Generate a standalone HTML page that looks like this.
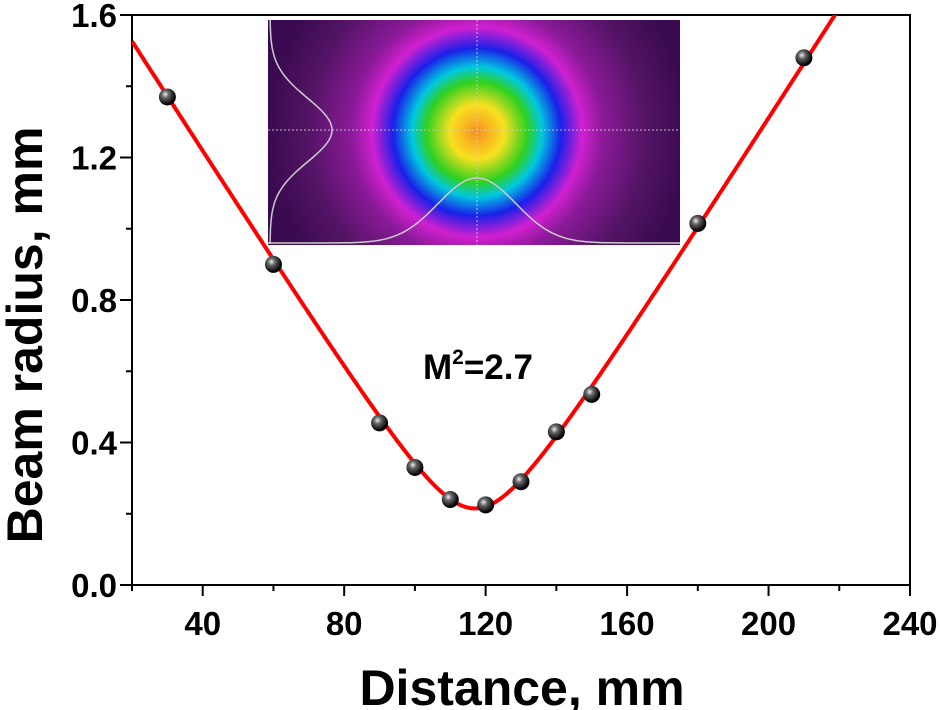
<!DOCTYPE html>
<html><head><meta charset="utf-8"><style>
body{margin:0;background:#fff}
svg{display:block;font-family:"Liberation Sans",Arial,sans-serif;font-weight:bold}
</style></head><body>
<svg id="chartsvg" width="940" height="710" viewBox="0 0 940 710">
<defs id="defsEl">
<radialGradient id="beam" cx="477" cy="132" r="210" gradientUnits="userSpaceOnUse">
<stop offset="0" stop-color="#f79020"/>
<stop offset="0.13" stop-color="#f8e020"/>
<stop offset="0.24" stop-color="#30d020"/>
<stop offset="0.31" stop-color="#00c8e0"/>
<stop offset="0.4" stop-color="#1a20e8"/>
<stop offset="0.5" stop-color="#d020d0"/>
<stop offset="0.6" stop-color="#8a1a98"/>
<stop offset="0.8" stop-color="#541466"/>
<stop offset="1" stop-color="#3a0a50"/>
</radialGradient>
<radialGradient id="ball" cx="0.38" cy="0.35" r="0.6">
<stop offset="0" stop-color="#eee"/><stop offset="0.35" stop-color="#666"/><stop offset="1" stop-color="#000"/>
</radialGradient>
<clipPath id="ic"><rect x="268" y="20" width="412" height="225"/></clipPath>
<clipPath id="pc"><rect x="132" y="15" width="778" height="570"/></clipPath>
</defs>
<g>
<rect x="268" y="20" width="412" height="225" fill="url(#beam)"/>
<g clip-path="url(#ic)" stroke="#ccc" fill="none" stroke-width="1.5">
<line x1="268" y1="130" x2="680" y2="130" stroke-dasharray="2,2" opacity="0.6"/>
<line x1="477" y1="20" x2="477" y2="245" stroke-dasharray="2,2" opacity="0.6"/>
<path id="hprofPath"/><path id="vprofPath"/>
</g>
</g>
<g id="axesGroup"></g>
<path id="fitPath" fill="none" stroke="#f00" stroke-width="4" clip-path="url(#pc)"/>
<g id="ptsGroup"></g>
<text x="423" y="379" font-size="35">M<tspan font-size="21" dy="-15">2</tspan><tspan dy="15">=2.7</tspan></text>
<text x="522" y="705" font-size="50" text-anchor="middle">Distance, mm</text>
<text transform="translate(42,335) rotate(-90)" font-size="50" text-anchor="middle">Beam radius, mm</text>
</svg>
<script>
var distances=[30,60,90,100,110,120,130,140,150,180,210];
var radii=[1.37,0.9,0.455,0.33,0.24,0.225,0.29,0.43,0.535,1.015,1.48];
var fitParams=[0.215,117,13.8];
var xTicks=[40,80,120,160,200,240];
var yTicks=[0.0,0.4,0.8,1.2,1.6];
(function(){
var X0=132,X1=910,Y0=585,Y1=15,xmin=20,xmax=240,ymin=0,ymax=1.6;
function sx(v){return X0+(v-xmin)/(xmax-xmin)*(X1-X0);}
function sy(v){return Y0-(v-ymin)/(ymax-ymin)*(Y0-Y1);}
var NS="http://www.w3.org/2000/svg";
function mk(t,a,p){var e=document.createElementNS(NS,t);for(var k in a)e.setAttribute(k,a[k]);p.appendChild(e);return e;}
var ax=document.getElementById('axesGroup');
var frame=mk('rect',{x:X0,y:Y1,width:X1-X0,height:Y0-Y1,fill:'none',stroke:'#000','stroke-width':2},ax);


for(var v=xmin;v<=xmax;v+=20){var maj=xTicks.indexOf(v)>=0;
 mk('line',{x1:sx(v),x2:sx(v),y1:Y0,y2:Y0+(maj?11:6),stroke:'#000','stroke-width':2},ax);}
xTicks.forEach(function(v){var t=mk('text',{x:sx(v),y:Y0+50,'font-size':33,'text-anchor':'middle'},ax);t.textContent=String(v);
 
 });
for(var i=0;i<=8;i++){var yv=i*0.2,mj=i%2==0;
 mk('line',{x1:X0,x2:X0-(mj?12:6),y1:sy(yv),y2:sy(yv),stroke:'#000','stroke-width':2},ax);}
yTicks.forEach(function(v){var t=mk('text',{x:X0-15,y:sy(v)+12,'font-size':33,'text-anchor':'end'},ax);t.textContent=v.toFixed(1);
 
 });
var w0=fitParams[0],z0=fitParams[1],zR=fitParams[2];
var d='';
for(var z=xmin;z<=xmax;z+=0.5){var w=w0*Math.sqrt(1+Math.pow((z-z0)/zR,2));if(w>ymax+0.05)w=ymax+0.05;d+=(d?'L':'M')+sx(z).toFixed(1)+','+sy(w).toFixed(1);}
document.getElementById('fitPath').setAttribute('d',d);
var pg=document.getElementById('ptsGroup');
distances.forEach(function(zz,j){var c=mk('circle',{cx:sx(zz),cy:sy(radii[j]),r:8.5,fill:'url(#ball)'},pg);
 
 });
var h='';for(var x=268;x<=680;x+=2){var y=243-65*Math.exp(-Math.pow((x-477)/55,2));h+=(h?'L':'M')+x+','+y.toFixed(1);}
document.getElementById('hprofPath').setAttribute('d',h);
var vv='';for(var yy=20;yy<=245;yy+=2){var xx=270+62*Math.exp(-Math.pow((yy-130)/45,2));vv+=(vv?'L':'M')+xx.toFixed(1)+','+yy;}
document.getElementById('vprofPath').setAttribute('d',vv);
})();
</script>
</body></html>
